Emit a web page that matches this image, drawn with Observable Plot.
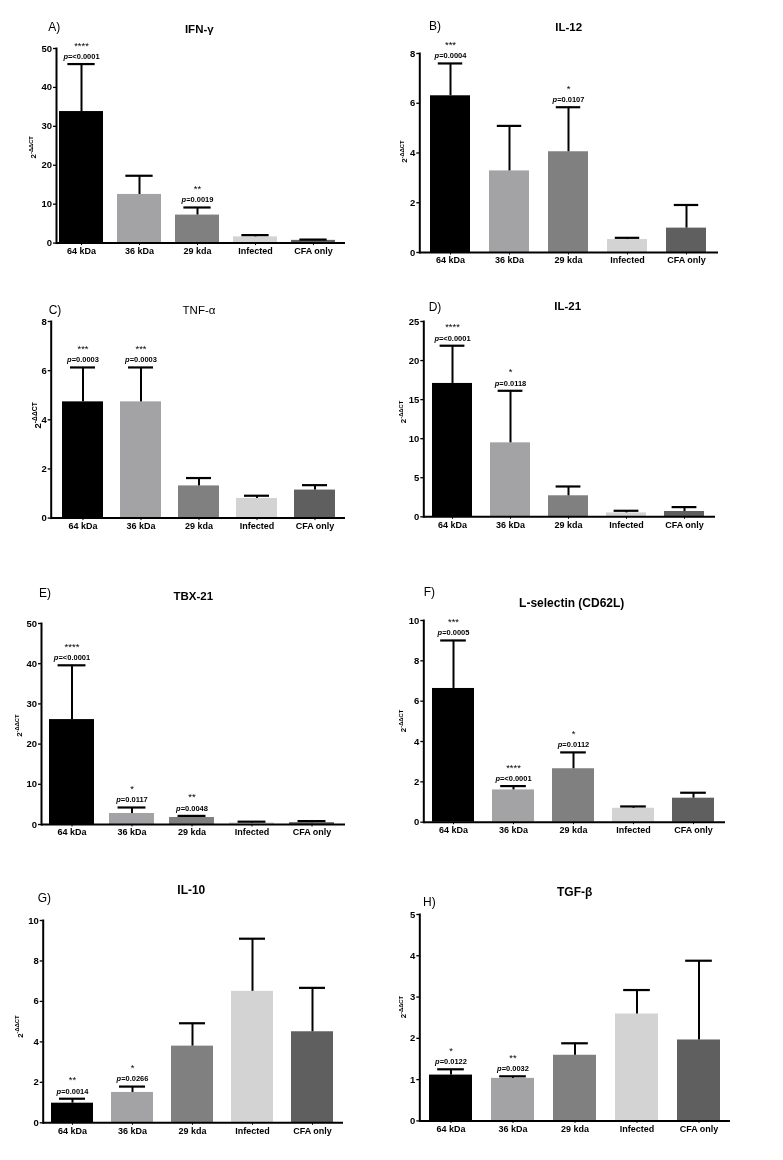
<!DOCTYPE html>
<html><head><meta charset="utf-8">
<script src="https://cdn.jsdelivr.net/npm/d3@7"></script>
<script src="https://cdn.jsdelivr.net/npm/@observablehq/plot@0.6"></script>
<style>
body{margin:0;background:#fff;}
#wrap{position:relative;width:783px;height:1160px;overflow:hidden;background:#fff;font-family:"Liberation Sans",Arial,sans-serif;}
#wrap svg{position:absolute;overflow:visible;max-width:none;will-change:transform;}
</style></head><body><div id="wrap"></div>
<script>
// ---------- data ----------
const groups = ["64 kDa", "36 kDa", "29 kda", "Infected", "CFA only"];
const groupColors = ["#000000", "#a3a3a6", "#808080", "#d3d3d3", "#5f5f5f"];

const ifngMean = [33.8, 12.5, 7.2, 1.6, 0.7];
const ifngErr = [12.2, 4.8, 1.95, 0.45, 0.2];
const ifngStars = ["****", "", "**", "", ""];
const ifngP = ["p=<0.0001", "", "p=0.0019", "", ""];
const ifngTicks = [0, 10, 20, 30, 40, 50];

const il12Mean = [6.3, 3.28, 4.05, 0.52, 0.98];
const il12Err = [1.3, 1.81, 1.79, 0.07, 0.93];
const il12Stars = ["***", "", "*", "", ""];
const il12P = ["p=0.0004", "", "p=0.0107", "", ""];
const il12Ticks = [0, 2, 4, 6, 8];

const tnfMean = [4.73, 4.73, 1.31, 0.80, 1.14];
const tnfErr = [1.4, 1.4, 0.32, 0.11, 0.2];
const tnfStars = ["***", "***", "", "", ""];
const tnfP = ["p=0.0003", "p=0.0003", "", "", ""];
const tnfTicks = [0, 2, 4, 6, 8];

const il21Mean = [17.07, 9.47, 2.69, 0.5, 0.68];
const il21Err = [4.83, 6.66, 1.19, 0.27, 0.56];
const il21Stars = ["****", "*", "", "", ""];
const il21P = ["p=<0.0001", "p=0.0118", "", "", ""];
const il21Ticks = [0, 5, 10, 15, 20, 25];

const tbxMean = [26.1, 2.74, 1.74, 0.4, 0.45];
const tbxErr = [13.5, 1.49, 0.4, 0.3, 0.4];
const tbxStars = ["****", "*", "**", "", ""];
const tbxP = ["p=<0.0001", "p=0.0117", "p=0.0048", "", ""];
const tbxTicks = [0, 10, 20, 30, 40, 50];

const cd62lMean = [6.63, 1.6, 2.65, 0.69, 1.19];
const cd62lErr = [2.38, 0.19, 0.81, 0.09, 0.27];
const cd62lStars = ["***", "****", "*", "", ""];
const cd62lP = ["p=0.0005", "p=<0.0001", "p=0.0112", "", ""];
const cd62lTicks = [0, 2, 4, 6, 8, 10];

const il10Mean = [0.97, 1.5, 3.79, 6.5, 4.5];
const il10Err = [0.22, 0.29, 1.13, 2.6, 2.17];
const il10Stars = ["**", "*", "", "", ""];
const il10P = ["p=0.0014", "p=0.0266", "", "", ""];
const il10Ticks = [0, 2, 4, 6, 8, 10];

const tgfMean = [1.11, 1.03, 1.59, 2.59, 1.96];
const tgfErr = [0.14, 0.05, 0.29, 0.58, 1.92];
const tgfStars = ["*", "**", "", "", ""];
const tgfP = ["p=0.0122", "p=0.0032", "", "", ""];
const tgfTicks = [0, 1, 2, 3, 4, 5];

// ---------- layout (pixel positions of each panel) ----------
const panels = [
  {letter: "A)", title: "IFN-γ", mean: ifngMean, err: ifngErr, stars: ifngStars, p: ifngP, ticks: ifngTicks,
   col: 0, axisX: 56, axisR: 345, yTop: 47.7, yZero: 242.3, L: 58, R: 336, w: 44,
   letterPos: [54.3, 27], titlePos: [199.3, 29], ylab: [33, 147], bold: true, tSize: 11.5, ySize: 8},
  {letter: "B)", title: "IL-12", mean: il12Mean, err: il12Err, stars: il12Stars, p: il12P, ticks: il12Ticks,
   col: 1, axisX: 419.3, axisR: 718, yTop: 53.3, yZero: 252.3, L: 428, R: 708, w: 41,
   letterPos: [435, 26.2], titlePos: [568.7, 27.5], ylab: [404, 152], bold: true, tSize: 11.5, ySize: 8},
  {letter: "C)", title: "TNF-α", mean: tnfMean, err: tnfErr, stars: tnfStars, p: tnfP, ticks: tnfTicks,
   col: 0, axisX: 50.7, axisR: 345, yTop: 320.7, yZero: 517.3, L: 60, R: 337, w: 42,
   letterPos: [55, 310], titlePos: [199, 309.7], ylab: [37.5, 415], bold: false, tSize: 11.5, ySize: 9.5},
  {letter: "D)", title: "IL-21", mean: il21Mean, err: il21Err, stars: il21Stars, p: il21P, ticks: il21Ticks,
   col: 1, axisX: 423.3, axisR: 715, yTop: 320.7, yZero: 516, L: 431, R: 705, w: 40,
   letterPos: [435, 306.7], titlePos: [567.7, 305.8], ylab: [403, 411.7], bold: true, tSize: 11.5, ySize: 8},
  {letter: "E)", title: "TBX-21", mean: tbxMean, err: tbxErr, stars: tbxStars, p: tbxP, ticks: tbxTicks,
   col: 0, axisX: 41, axisR: 345, yTop: 623.3, yZero: 824.3, L: 48, R: 335, w: 45,
   letterPos: [45, 593.3], titlePos: [193.3, 595.8], ylab: [19, 726], bold: true, tSize: 11.5, ySize: 8},
  {letter: "F)", title: "L-selectin (CD62L)", mean: cd62lMean, err: cd62lErr, stars: cd62lStars, p: cd62lP, ticks: cd62lTicks,
   col: 1, axisX: 423.3, axisR: 725, yTop: 620, yZero: 821.7, L: 430, R: 716, w: 43,
   letterPos: [429.3, 591.7], titlePos: [571.7, 603.3], ylab: [403, 721], bold: true, tSize: 12, ySize: 8},
  {letter: "G)", title: "IL-10", mean: il10Mean, err: il10Err, stars: il10Stars, p: il10P, ticks: il10Ticks,
   col: 0, axisX: 42.7, axisR: 343, yTop: 920, yZero: 1122.3, L: 50, R: 333, w: 42,
   letterPos: [44.3, 898.3], titlePos: [191.3, 890], ylab: [19.7, 1026.7], bold: true, tSize: 12, ySize: 8},
  {letter: "H)", title: "TGF-β", mean: tgfMean, err: tgfErr, stars: tgfStars, p: tgfP, ticks: tgfTicks,
   col: 1, axisX: 419.3, axisR: 730, yTop: 914.3, yZero: 1120.7, L: 428, R: 720, w: 43,
   letterPos: [429.3, 901.7], titlePos: [574.7, 891.7], ylab: [403, 1007.5], bold: true, tSize: 12, ySize: 8}
];

const FONT = "Liberation Sans, Arial, sans-serif";
const wrap = document.getElementById("wrap");

function makePanel(cfg) {
  const ox = cfg.col === 0 ? 0 : 390;
  const W = cfg.col === 0 ? 390 : 393;
  const oy = cfg.yTop - 60;
  const H = cfg.yZero + 22 - oy;
  const data = groups.map((g, i) => ({
    group: g, mean: cfg.mean[i], top: cfg.mean[i] + cfg.err[i],
    stars: cfg.stars[i], p: cfg.p[i], color: groupColors[i]
  }));
  const step = (cfg.R - cfg.L - cfg.w) / 4;
  const pi = 1 - cfg.w / step;
  const po = pi / 2;
  const r0 = cfg.L - step * po - ox, r1 = cfg.R + step * po - ox;
  const capInset = cfg.w * 0.19;
  const ymax = cfg.ticks[cfg.ticks.length - 1];

  const plot = Plot.plot({
    width: W, height: H,
    marginLeft: cfg.axisX - ox, marginRight: ox + W - cfg.axisR,
    marginTop: cfg.yTop - oy, marginBottom: oy + H - cfg.yZero,
    style: {fontFamily: FONT, background: "transparent", overflow: "visible"},
    x: {domain: groups, range: [r0, r1], paddingInner: pi, paddingOuter: po, axis: null},
    y: {domain: [0, ymax], axis: null},
    color: {type: "identity"},
    marks: [
      Plot.barY(data, {x: "group", y: "mean", fill: "color"}),
      Plot.ruleX(data, {x: "group", y1: "mean", y2: "top", stroke: "#000", strokeWidth: 2}),
      Plot.tickY(data, {x: "group", y: "top", stroke: "#000", strokeWidth: 2.2, insetLeft: capInset, insetRight: capInset}),
      Plot.axisY({ticks: cfg.ticks, tickFormat: d => String(d), tickSize: 3, tickPadding: 1.5, fontSize: 9.5, fontWeight: "bold", label: null, strokeWidth: 1.3, fill: "#000"}),
      Plot.axisX({tickSize: 2.5, tickPadding: 2, fontSize: 9, fontWeight: "bold", label: null, fill: "#000", strokeWidth: 1}),
      Plot.ruleY([0], {stroke: "#000", strokeWidth: 2}),
      Plot.frame({anchor: "left", stroke: "#000", strokeWidth: 2}),
      Plot.text(data.filter(d => d.p), {x: "group", y: "top", text: "p", dy: -7.5, fontSize: 7.5, fontWeight: "bold", fill: "#000"}),
      Plot.text(data.filter(d => d.stars), {x: "group", y: "top", text: "stars", dy: -18.5, fontSize: 9.5, fill: "#000"})
    ]
  });
  plot.style.left = ox + "px";
  plot.style.top = oy + "px";

  // italic p in p-value labels
  plot.querySelectorAll("text").forEach(t => {
    const s = t.textContent;
    if (s.startsWith("p=") && t.children.length === 0) {
      t.textContent = "";
      const a = document.createElementNS("http://www.w3.org/2000/svg", "tspan");
      a.setAttribute("font-style", "italic");
      a.textContent = "p";
      const b = document.createElementNS("http://www.w3.org/2000/svg", "tspan");
      b.textContent = s.slice(1);
      t.appendChild(a); t.appendChild(b);
    }
  });

  const svg = d3.select(plot);
  svg.append("text")
    .attr("x", cfg.letterPos[0] - ox).attr("y", cfg.letterPos[1] - oy)
    .attr("dy", "0.35em").attr("font-size", 12).attr("font-family", FONT).attr("fill", "#000")
    .text(cfg.letter);
  svg.append("text")
    .attr("x", cfg.titlePos[0] - ox).attr("y", cfg.titlePos[1] - oy)
    .attr("dy", "0.35em").attr("text-anchor", "middle").attr("font-size", cfg.tSize)
    .attr("font-weight", cfg.bold ? "bold" : "normal").attr("font-family", FONT).attr("fill", "#000")
    .text(cfg.title);
  const yl = svg.append("text")
    .attr("transform", `translate(${cfg.ylab[0] - ox},${cfg.ylab[1] - oy}) rotate(-90)`)
    .attr("text-anchor", "middle").attr("dy", "0.35em").attr("font-size", cfg.ySize)
    .attr("font-weight", "bold").attr("font-family", FONT).attr("fill", "#000");
  yl.append("tspan").text("2");
  yl.append("tspan").attr("font-size", cfg.ySize * 0.72).attr("dy", -cfg.ySize * 0.4).text("-ΔΔCT");
  wrap.appendChild(plot);
}

panels.forEach(makePanel);
</script>
</body></html>
